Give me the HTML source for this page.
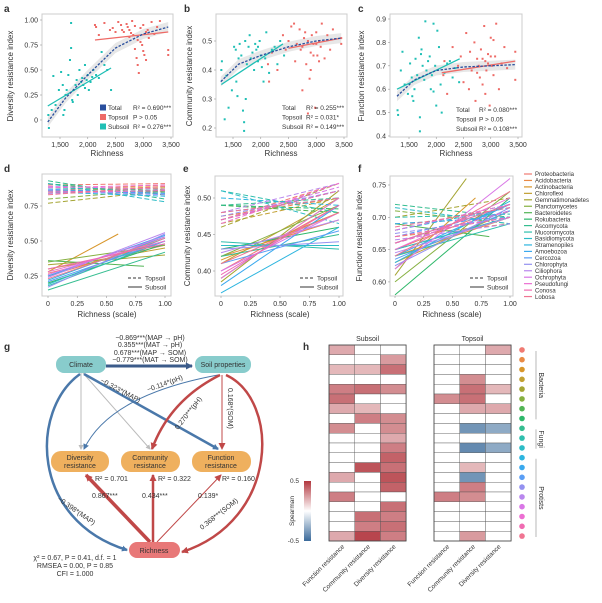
<!DOCTYPE html>
<html><head><meta charset="utf-8">
<style>
html,body{margin:0;padding:0;background:#fff;}
svg{display:block;font-family:"Liberation Sans",sans-serif;}
text{fill:#333;}
</style></head>
<body>
<svg id="fig" width="602" height="603" viewBox="0 0 602 603" xmlns="http://www.w3.org/2000/svg">
<defs>
<marker id="ab" markerWidth="6" markerHeight="6" refX="5" refY="3" orient="auto" markerUnits="userSpaceOnUse"><path d="M0,0 L6,3 L0,6 z" fill="#4a78aa"/></marker>
<marker id="ar" markerWidth="7" markerHeight="7" refX="6" refY="3.5" orient="auto" markerUnits="userSpaceOnUse"><path d="M0,0 L7,3.5 L0,7 z" fill="#c04848"/></marker>
<marker id="ag" markerWidth="5" markerHeight="5" refX="4" refY="2.5" orient="auto" markerUnits="userSpaceOnUse"><path d="M0,0 L5,2.5 L0,5 z" fill="#bbb"/></marker>
<marker id="an" markerWidth="7" markerHeight="7" refX="6" refY="3.5" orient="auto" markerUnits="userSpaceOnUse"><path d="M0,0 L7,3.5 L0,7 z" fill="#3b5b8a"/></marker>
</defs>
<g id="root"></g>

<!-- Panel g: SEM -->
<g font-size="7">
<text x="4" y="350" font-size="10" font-weight="bold" fill="#000">g</text>
<text x="150" y="340" text-anchor="middle">−0.869***(MAP → pH)</text>
<text x="150" y="347" text-anchor="middle">0.355***(MAT → pH)</text>
<text x="150" y="355" text-anchor="middle">0.678***(MAP → SOM)</text>
<text x="150" y="362" text-anchor="middle">−0.779***(MAT → SOM)</text>
<line x1="106" y1="366" x2="192" y2="366" stroke="#3b5b8a" stroke-width="3" marker-end="url(#an)"/>
<line x1="81" y1="373" x2="81" y2="449" stroke="#bbb" stroke-width="1" marker-end="url(#ag)"/>
<line x1="83" y1="373" x2="150" y2="449" stroke="#bbb" stroke-width="1" marker-end="url(#ag)"/>
<line x1="84" y1="374" x2="218" y2="449" stroke="#4a78aa" stroke-width="2.5" marker-end="url(#ab)"/>
<path d="M80,374 C30,410 30,520 127,550" fill="none" stroke="#4a78aa" stroke-width="2.5" marker-end="url(#ab)"/>
<path d="M218,375 Q110,395 84,449" fill="none" stroke="#4a78aa" stroke-width="1" marker-end="url(#ab)"/>
<path d="M220,375 Q170,400 152,449" fill="none" stroke="#c04848" stroke-width="2.5" marker-end="url(#ar)"/>
<line x1="222" y1="375" x2="222" y2="449" stroke="#c04848" stroke-width="1" marker-end="url(#ar)"/>
<path d="M226,375 C280,400 280,520 182,552" fill="none" stroke="#c04848" stroke-width="2.5" marker-end="url(#ar)"/>
<line x1="150" y1="542" x2="86" y2="475" stroke="#c04848" stroke-width="3.5" marker-end="url(#ar)"/>
<line x1="153" y1="542" x2="153" y2="475" stroke="#c04848" stroke-width="2.5" marker-end="url(#ar)"/>
<line x1="157" y1="542" x2="221" y2="475" stroke="#c04848" stroke-width="1" marker-end="url(#ar)"/>
<rect x="56" y="356" width="50" height="17" rx="8" fill="#88cccc"/>
<text x="81" y="367" text-anchor="middle">Climate</text>
<rect x="195" y="356" width="56" height="17" rx="8" fill="#88cccc"/>
<text x="223" y="367" text-anchor="middle">Soil properties</text>
<rect x="51" y="451" width="58" height="21" rx="10" fill="#efb05e"/>
<text x="80" y="460" text-anchor="middle">Diversity</text><text x="80" y="468" text-anchor="middle">resistance</text>
<rect x="121" y="451" width="59" height="21" rx="10" fill="#efb05e"/>
<text x="150" y="460" text-anchor="middle">Community</text><text x="150" y="468" text-anchor="middle">resistance</text>
<rect x="192" y="451" width="59" height="21" rx="10" fill="#efb05e"/>
<text x="221" y="460" text-anchor="middle">Function</text><text x="221" y="468" text-anchor="middle">resistance</text>
<rect x="129" y="542" width="51" height="16" rx="8" fill="#e87878"/>
<text x="154" y="553" text-anchor="middle">Richness</text>
<text transform="translate(100,382) rotate(28)">−0.323*(MAP)</text>
<text transform="translate(148,392) rotate(-20)">−0.114*(pH)</text>
<text transform="translate(178,430) rotate(-52)">0.270***(pH)</text>
<text transform="translate(228,388) rotate(90)">0.168*(SOM)</text>
<text x="95" y="481">R² = 0.701</text>
<text x="158" y="481">R² = 0.322</text>
<text x="222" y="481">R² = 0.160</text>
<text x="92" y="498">0.867***</text>
<text x="142" y="498">0.434***</text>
<text x="198" y="498">0.139*</text>
<text transform="translate(57,500) rotate(35)">−0.398*(MAP)</text>
<text transform="translate(202,530) rotate(-38)">0.368***(SOM)</text>
<text x="75" y="560" text-anchor="middle">χ² = 0.67, P = 0.41, d.f. = 1</text>
<text x="75" y="568" text-anchor="middle">RMSEA = 0.00, P = 0.85</text>
<text x="75" y="576" text-anchor="middle">CFI = 1.000</text>
</g>
</svg>

<script>
// ---------- shared data ----------
const subX=[1290,1300,1350,1380,1420,1480,1520,1550,1580,1600,1620,1650,1680,1700,1720,1750,1780,1800,1820,1850,1880,1900,1920,1950,1980,2000,2020,2050,2080,2100,2150,2200,2250,2300,2350,2420,1700,1730,1560,1950];
const topX=[2130,2150,2200,2300,2400,2450,2500,2550,2600,2620,2650,2700,2720,2750,2780,2800,2820,2850,2880,2900,2920,2950,2980,3000,3020,3050,3080,3100,3150,3200,3250,3300,3450,3450,2900,2950,2750,3050,2850,3000];
const aSubY=[0.05,-0.08,0.10,0.44,0.15,0.30,0.48,0.35,0.10,0.25,0.30,0.45,0.60,0.97,0.20,0.30,0.35,0.40,0.25,0.50,0.38,0.42,0.35,0.55,0.40,0.45,0.30,0.38,0.43,0.50,0.45,0.42,0.68,0.55,0.50,0.30,0.72,0.18,0.05,0.32];
const aTopY=[0.95,0.93,0.85,0.97,0.90,0.92,0.88,0.98,0.95,0.90,0.88,0.96,0.93,0.90,0.87,0.99,0.85,0.94,0.62,0.80,0.47,0.92,0.75,0.95,0.65,0.88,0.90,0.82,0.98,0.86,0.93,0.99,0.70,0.65,0.55,0.78,0.83,0.60,0.71,0.69];
const bSubY=[0.40,0.43,0.23,0.38,0.27,0.33,0.48,0.47,0.31,0.44,0.49,0.45,0.26,0.19,0.50,0.42,0.48,0.52,0.44,0.46,0.40,0.49,0.47,0.43,0.50,0.45,0.41,0.36,0.44,0.53,0.39,0.47,0.48,0.42,0.50,0.45,0.22,0.30,0.36,0.48];
const bTopY=[0.42,0.36,0.46,0.40,0.52,0.47,0.50,0.55,0.56,0.43,0.49,0.54,0.47,0.48,0.51,0.53,0.42,0.50,0.37,0.46,0.52,0.49,0.27,0.53,0.45,0.50,0.48,0.56,0.44,0.52,0.47,0.54,0.49,0.51,0.40,0.45,0.33,0.43,0.25,0.49];
const cSubY=[0.51,0.49,0.68,0.76,0.62,0.58,0.71,0.65,0.55,0.60,0.73,0.66,0.82,0.42,0.75,0.70,0.64,0.89,0.68,0.72,0.74,0.60,0.66,0.88,0.70,0.53,0.85,0.78,0.62,0.50,0.67,0.71,0.72,0.65,0.69,0.63,0.48,0.77,0.57,0.59];
const cTopY=[0.66,0.72,0.58,0.78,0.70,0.74,0.63,0.84,0.60,0.76,0.68,0.80,0.55,0.73,0.70,0.65,0.77,0.62,0.87,0.72,0.68,0.75,0.53,0.82,0.70,0.66,0.74,0.88,0.60,0.71,0.78,0.69,0.76,0.64,0.58,0.71,0.67,0.81,0.73,0.74];
const totalCurveX=[1280,1600,2000,2500,3000,3450];
const aTotalY=[-0.02,0.22,0.45,0.72,0.86,0.93];
const bTotalY=[0.36,0.42,0.45,0.48,0.50,0.51];
const cTotalY=[0.57,0.64,0.68,0.695,0.70,0.705];
const aSubFit=[[1280,0.14],[2420,0.52]], aTopFit=[[2130,0.80],[3450,0.88]];
const bSubFit=[[1290,0.35],[2400,0.49]], bTopFit=[[2500,0.475],[3450,0.51]];
const cSubFit=[[1280,0.60],[2430,0.73]], cTopFit=[[2100,0.67],[3450,0.72]];
const richTicks=[1500,2000,2500,3000,3500];
const richTickLabels=["1,500","2,000","2,500","3,000","3,500"];

const phyla=["Proteobacteria","Acidobacteria","Actinobacteria","Chloroflexi","Gemmatimonadetes","Planctomycetes","Bacteroidetes","Rokubacteria","Ascomycota","Mucoromycota","Basidiomycota","Stramenopiles","Amoebozoa","Cercozoa","Chlorophyta","Ciliophora","Ochrophyta","Pseudofungi","Conosa","Lobosa"];
const phylaColors=["#f07a72","#e98a45","#d8962a","#c2a032","#a5a534","#86b040","#52b555","#2eb86a","#35bd90","#2fbfae","#2dbcc6","#2db5df","#3aa9ee","#5a9ef5","#9491f0","#b987ee","#d977e6","#ec6fd2","#f06cb2","#f07592"];
const dTopStart=[0.90,0.86,0.85,0.84,0.77,0.80,0.86,0.91,0.93,0.88,0.91,0.85,0.86,0.87,0.86,0.84,0.89,0.88,0.85,0.83];
const dTopEnd=[0.91,0.90,0.89,0.88,0.86,0.87,0.85,0.83,0.80,0.86,0.78,0.82,0.84,0.84,0.83,0.86,0.87,0.90,0.86,0.89];
const dSubStart=[0.27,0.25,0.28,0.30,0.33,0.35,0.36,0.20,0.15,0.18,0.19,0.22,0.25,0.21,0.17,0.24,0.26,0.28,0.30,0.23];
const dSubEnd=[0.47,0.50,0.55,0.45,0.40,0.47,0.32,0.48,0.42,0.50,0.52,0.53,0.54,0.50,0.55,0.56,0.53,0.50,0.48,0.52];
const dSubX1=[1,1,0.6,1,1,1,0.82,1,1,1,1,1,1,1,1,1,1,1,1,1];
const eTopStart=[0.47,0.475,0.47,0.465,0.46,0.47,0.49,0.49,0.49,0.51,0.51,0.50,0.48,0.47,0.475,0.48,0.47,0.465,0.47,0.48];
const eTopEnd=[0.52,0.50,0.51,0.50,0.52,0.51,0.48,0.485,0.50,0.48,0.465,0.49,0.50,0.51,0.51,0.52,0.515,0.52,0.51,0.50];
const eSubStart=[0.40,0.42,0.415,0.41,0.385,0.42,0.39,0.43,0.42,0.44,0.435,0.37,0.38,0.41,0.43,0.425,0.40,0.39,0.395,0.41];
const eSubEnd=[0.49,0.47,0.48,0.50,0.51,0.49,0.50,0.46,0.45,0.43,0.435,0.46,0.49,0.455,0.44,0.47,0.48,0.50,0.49,0.48];
const fTopStart=[0.66,0.67,0.65,0.68,0.70,0.71,0.69,0.66,0.72,0.70,0.715,0.68,0.69,0.67,0.675,0.665,0.68,0.66,0.67,0.685];
const fTopEnd=[0.71,0.69,0.70,0.72,0.73,0.69,0.70,0.71,0.70,0.705,0.69,0.715,0.70,0.71,0.70,0.69,0.72,0.71,0.70,0.715];
const fSubStart=[0.65,0.64,0.62,0.63,0.61,0.60,0.69,0.58,0.66,0.64,0.65,0.63,0.64,0.635,0.625,0.645,0.62,0.65,0.66,0.64];
const fSubEnd=[0.72,0.70,0.73,0.71,0.76,0.74,0.67,0.73,0.72,0.69,0.70,0.725,0.72,0.71,0.715,0.70,0.76,0.73,0.72,0.74];
const fSubX1=[1,1,0.7,1,0.62,1,0.82,1,1,1,1,1,1,1,1,1,1,1,1,1];

const subsoilHeat=[[0.3,0,0],[0,0,0.35],[0.25,0.25,0.5],[0,0,0],[0.45,0.5,0.4],[0.5,0,0],[0.3,0.25,0],[0,0.45,0.4],[0.4,0,0.4],[0,0,0.3],[0,0,0.45],[0,0,0.55],[0,0.6,0.5],[0.3,0,0.6],[0,0,0.55],[0.45,0,0],[0,0,0.5],[0,0.5,0.45],[0,0.45,0.5],[0.3,0.65,0.45]];
const topsoilHeat=[[0,0,0.3],[0,0,0],[0,0,0],[0,0.4,0],[0,0.5,0.25],[0.4,0.5,0],[0,0.3,0.3],[0,0,0],[0,-0.5,-0.4],[0,0,0],[0,-0.55,-0.4],[0,0,0],[0,0.25,0],[0,-0.5,0],[0,0.45,0],[0.45,0.4,0],[0,0,0],[0,0,0],[0,0,0],[0,0.35,0]];
const heatCols=["Function resistance","Community resistance","Diversity resistance"];

// ---------- helpers ----------
const NS="http://www.w3.org/2000/svg";
const root=document.getElementById('root');
function mk(tag,attrs,parent,txt){const e=document.createElementNS(NS,tag);for(const k in attrs)e.setAttribute(k,attrs[k]);if(txt!==undefined)e.textContent=txt;(parent||root).appendChild(e);return e;}
const TEAL="#1fbfb5", RED="#ee6a66", BLUE="#2a4f9e";

function axisFrame(name,x0,y0,x1,y1){
  const r=mk('rect',{x:x0,y:y0,width:x1-x0,height:y1-y0,fill:'none',stroke:'#ccc','stroke-width':1});
  
  
}
function yTicks(vals,labels,sy,x0){
  vals.forEach((v,i)=>{
    mk('line',{x1:x0-2,x2:x0,y1:sy(v),y2:sy(v),stroke:'#999','stroke-width':0.6});
    const t=mk('text',{x:x0-4,y:sy(v)+2.5,'font-size':7,'text-anchor':'end'},null,labels[i]);
    
    
  });
}
function xTicks(vals,labels,sx,y1){
  vals.forEach((v,i)=>{
    mk('line',{x1:sx(v),x2:sx(v),y1:y1,y2:y1+2,stroke:'#999','stroke-width':0.6});
    const t=mk('text',{x:sx(v),y:y1+10,'font-size':7,'text-anchor':'middle'},null,labels[i]);
    
    
  });
}
function titles(letter,lx,ly,xt,xtx,xty,yt,ytx,yty){
  const l=mk('text',{x:lx,y:ly,'font-size':10,'font-weight':'bold',fill:'#000'},null,letter);
  
  
  const a=mk('text',{x:xtx,y:xty,'font-size':8,'text-anchor':'middle'},null,xt);
  
  
  const b=mk('text',{transform:`translate(${ytx},${yty}) rotate(-90)`,'font-size':8,'text-anchor':'middle'},null,yt);
  
  
}

function scatterPanel(cfg){
  const {name,x0,y0,x1,y1,sx,sy,subY,topY,totY,subFit,topFit,yv,yl}=cfg;
  axisFrame(name,x0,y0,x1,y1);
  // ribbon
  const up=totalCurveX.map((x,i)=>`${sx(x)},${sy(totY[i])-5}`).join(' ');
  const dn=totalCurveX.map((x,i)=>`${sx(x)},${sy(totY[i])+5}`).reverse().join(' ');
  const rb=mk('polygon',{points:up+' '+dn,fill:'#ddd',opacity:0.7});
  
  
  subX.forEach((x,i)=>{
    const p=mk('rect',{x:sx(x)-1,y:sy(subY[i])-1,width:2,height:2,fill:TEAL});
    
    
  });
  topX.forEach((x,i)=>{
    const p=mk('rect',{x:sx(x)-1,y:sy(topY[i])-1,width:2,height:2,fill:RED});
    
    
  });
  const sl=mk('line',{x1:sx(subFit[0][0]),y1:sy(subFit[0][1]),x2:sx(subFit[1][0]),y2:sy(subFit[1][1]),stroke:TEAL,'stroke-width':1.3});
  
  
  const tl=mk('line',{x1:sx(topFit[0][0]),y1:sy(topFit[0][1]),x2:sx(topFit[1][0]),y2:sy(topFit[1][1]),stroke:RED,'stroke-width':1.3});
  
  
  const d=totalCurveX.map((x,i)=>(i?'L':'M')+sx(x)+','+sy(totY[i])).join(' ');
  const tc=mk('path',{d:d,fill:'none',stroke:BLUE,'stroke-width':1.3,'stroke-dasharray':'2.5,1.5'});
  
  
  yTicks(yv,yl,sy,x0);
  xTicks(richTicks,richTickLabels,sx,y1);
}

// ---------- panels a-c ----------
const sxA=v=>60+(v-1500)*0.0555;
scatterPanel({name:'panel-a',x0:42,y0:14,x1:173,y1:137,sx:sxA,sy:v=>120-100*v,subY:aSubY,topY:aTopY,totY:aTotalY,subFit:aSubFit,topFit:aTopFit,yv:[0,0.25,0.5,0.75,1],yl:["0","0.25","0.50","0.75","1.00"]});
titles('a',4,12,'Richness',107,156,'Diversity resistance index',13,76);
const sxB=v=>233+(v-1500)*0.0555;
scatterPanel({name:'panel-b',x0:216,y0:14,x1:347,y1:137,sx:sxB,sy:v=>41+(0.5-v)*290,subY:bSubY,topY:bTopY,totY:bTotalY,subFit:bSubFit,topFit:bTopFit,yv:[0.2,0.3,0.4,0.5],yl:["0.2","0.3","0.4","0.5"]});
titles('b',184,12,'Richness',281,156,'Community resistance index',192,76);
const sxC=v=>409+(v-1500)*0.0545;
scatterPanel({name:'panel-c',x0:390,y0:14,x1:522,y1:137,sx:sxC,sy:v=>19+(0.9-v)*234,subY:cSubY,topY:cTopY,totY:cTotalY,subFit:cSubFit,topFit:cTopFit,yv:[0.4,0.5,0.6,0.7,0.8,0.9],yl:["0.4","0.5","0.6","0.7","0.8","0.9"]});
titles('c',358,12,'Richness',456,156,'Function resistance index',364,76);

// legends for a-c
function scLegend(x,y,lines,squares){
  lines.forEach((ln,i)=>{
    if(squares){const s=mk('rect',{x:x-8,y:y+i*9.5-5.5,width:6,height:6,fill:[BLUE,RED,TEAL][i]});
      
      }
    const t=mk('text',{x:x,y:y+i*9.5,'font-size':6.5},null,ln[0]);
    
    
    mk('text',{x:x+ln[2],y:y+i*9.5,'font-size':6.5},null,ln[1]);
  });
}
scLegend(108,110,[["Total","R² = 0.690***",25],["Topsoil","P > 0.05",25],["Subsoil","R² = 0.276***",25]],true);
scLegend(282,110,[["Total","R² = 0.255***",24],["Topsoil","R² = 0.031*",24],["Subsoil","R² = 0.149***",24]],false);
scLegend(456,112,[["Total","R² = 0.080***",23],["Topsoil","P > 0.05",23],["Subsoil","R² = 0.108***",23]],false);

// ---------- panels d-f ----------
function linePanel(cfg){
  const {name,x0,y0,x1,y1,sx,sy,ts,te,ss,se,sx1,yv,yl}=cfg;
  axisFrame(name,x0,y0,x1,y1);
  phyla.forEach((p,i)=>{
    const a=mk('line',{x1:sx(0),y1:sy(ts[i]),x2:sx(1),y2:sy(te[i]),stroke:phylaColors[i],'stroke-width':1,'stroke-dasharray':'5,2.5'});
    
    
    const xe=sx1?sx1[i]:1;
    const b=mk('line',{x1:sx(0),y1:sy(ss[i]),x2:sx(xe),y2:sy(se[i]),stroke:phylaColors[i],'stroke-width':1});
    
    
  });
  yTicks(yv,yl,sy,x0);
  xTicks([0,0.25,0.5,0.75,1],["0","0.25","0.50","0.75","1.00"],sx,y1);
  const lx=x1-43,ly=y1-18;
  mk('line',{x1:lx,x2:lx+14,y1:ly,y2:ly,stroke:'#333','stroke-width':1,'stroke-dasharray':'3,2'});
  const l1=mk('text',{x:lx+17,y:ly+2.5,'font-size':6.5},null,'Topsoil');
  
  
  mk('line',{x1:lx,x2:lx+14,y1:ly+9,y2:ly+9,stroke:'#333','stroke-width':1});
  const l2=mk('text',{x:lx+17,y:ly+11.5,'font-size':6.5},null,'Subsoil');
  
  
}
linePanel({name:'panel-d',x0:42,y0:174,x1:171,y1:296,sx:v=>48+v*117,sy:v=>206+(0.75-v)*140,ts:dTopStart,te:dTopEnd,ss:dSubStart,se:dSubEnd,sx1:dSubX1,yv:[0.25,0.5,0.75],yl:["0.25","0.50","0.75"]});
titles('d',4,172,'Richness (scale)',107,317,'Diversity resistance index',13,235);
linePanel({name:'panel-e',x0:215,y0:176,x1:343,y1:296,sx:v=>221+v*118,sy:v=>198+(0.5-v)*730,ts:eTopStart,te:eTopEnd,ss:eSubStart,se:eSubEnd,sx1:null,yv:[0.4,0.45,0.5],yl:["0.40","0.45","0.50"]});
titles('e',183,172,'Richness (scale)',280,317,'Community resistance index',190,236);
linePanel({name:'panel-f',x0:390,y0:176,x1:513,y1:296,sx:v=>395+v*115,sy:v=>185+(0.75-v)*646,ts:fTopStart,te:fTopEnd,ss:fSubStart,se:fSubEnd,sx1:fSubX1,yv:[0.6,0.65,0.7,0.75],yl:["0.60","0.65","0.70","0.75"]});
titles('f',358,172,'Richness (scale)',452,317,'Function resistance index',362,236);
// phyla legend
phyla.forEach((p,i)=>{
  const y=174+i*6.45;
  mk('line',{x1:524,x2:532,y1:y,y2:y,stroke:phylaColors[i],'stroke-width':1.2});
  const t=mk('text',{x:535,y:y+2.2,'font-size':6},null,p);
  
  
});

// ---------- panel h heatmap ----------
const hl=mk('text',{x:303,y:350,'font-size':10,'font-weight':'bold',fill:'#000'},null,'h');


function heatColor(v){
  if(v>=0){const t=Math.min(v/0.7,1);const c=[255+(178-255)*t,255+(55-255)*t,255+(63-255)*t];return `rgb(${c.map(Math.round)})`;}
  const t=Math.min(-v/0.7,1);const c=[255+(58-255)*t,255+(106-255)*t,255+(154-255)*t];return `rgb(${c.map(Math.round)})`;
}
const rowH=9.8,colW=25.7,hy0=345;
function heat(name,x0,data,title){
  const tt=mk('text',{x:x0+colW*1.5,y:341,'font-size':7,'text-anchor':'middle'},null,title);
  
  
  data.forEach((row,r)=>row.forEach((v,c)=>{
    const cell=mk('rect',{x:x0+c*colW,y:hy0+r*rowH,width:colW,height:rowH,fill:heatColor(v),stroke:'#555','stroke-width':0.4});
    
    
  }));
  mk('rect',{x:x0,y:hy0,width:colW*3,height:rowH*20,fill:'none',stroke:'#444','stroke-width':0.8});
  heatCols.forEach((c,i)=>{
    const t=mk('text',{transform:`translate(${x0+i*colW+colW/2+3},${hy0+rowH*20+6}) rotate(-45)`,'font-size':6.5,'text-anchor':'end'},null,c);
    
    
  });
}
heat('subsoil-heatmap',329,subsoilHeat,'Subsoil');
heat('topsoil-heatmap',434,topsoilHeat,'Topsoil');
phyla.forEach((p,i)=>{
  const d=mk('circle',{cx:522,cy:hy0+rowH*(i+0.5),r:2.8,fill:phylaColors[i]});
  
  
});
[["Bacteria",0,8],["Fungi",8,11],["Protists",11,20]].forEach(g=>{
  const ya=hy0+g[1]*rowH+6, yb=hy0+g[2]*rowH-4;
  mk('line',{x1:536,x2:536,y1:ya,y2:yb,stroke:'#888','stroke-width':0.6});
  const t=mk('text',{transform:`translate(539,${(ya+yb)/2}) rotate(90)`,'font-size':7,'text-anchor':'middle'},null,g[0]);
  
  
});
// colorbar
const grad=mk('linearGradient',{id:'cb',x1:0,y1:0,x2:0,y2:1},document.querySelector('defs'));
[[0,heatColor(0.7)],[0.5,'#fff'],[1,heatColor(-0.7)]].forEach(s=>mk('stop',{offset:s[0],'stop-color':s[1]},grad));
const cb=mk('rect',{x:304,y:481,width:7,height:60,fill:'url(#cb)'});


mk('text',{x:299,y:483,'font-size':6.5,'text-anchor':'end'},null,'0.5');
mk('text',{x:299,y:543,'font-size':6.5,'text-anchor':'end'},null,'-0.5');
const sp=mk('text',{transform:'translate(294,511) rotate(-90)','font-size':6.5,'text-anchor':'middle'},null,'Spearman');


</script>
</body></html>
